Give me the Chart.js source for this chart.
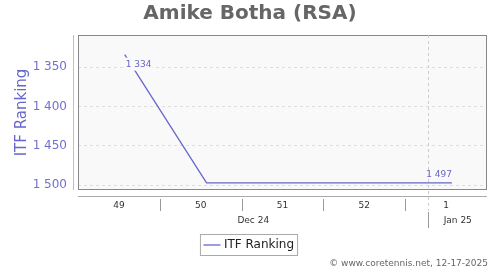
<!DOCTYPE html>
<html>
<head>
<meta charset="utf-8">
<script src="https://cdn.jsdelivr.net/npm/chart.js@4.4.1/dist/chart.umd.min.js"></script>
<style>
  html, body { margin: 0; padding: 0; background: #fff; }
  #wrap { width: 500px; height: 270px; }
</style>
</head>
<body>
<div id="wrap"><canvas id="js--chart"></canvas></div>
<script>
// data
const dates = ["2024-12-06", "2024-12-13", "2024-12-20", "2024-12-27", "2025-01-03"];
const ranking = [1334, 1497, 1497, 1497, 1497];
const weekLabels = ["49", "50", "51", "52", "1"];
const monthLabels = ["Dec 24", "Jan 25"];
const yTicks = [1350, 1400, 1450, 1500];

const startDay = Date.UTC(2024, 11, 2);
const dayMs = 86400000;
function dayOf(s) {
    const p = s.split("-");
    return (Date.UTC(+p[0], +p[1] - 1, +p[2]) - startDay) / dayMs;
}
const points = dates.map(function(d, i){
    return { x: dayOf(d), y: ranking[i] };
});

const purple = "rgb(102,102,204)";
const tickPurple = "rgb(112,112,208)";
const fontFam = "'DejaVu Sans', sans-serif";

function fmt(n) {
    return String(n).replace(/\B(?=(\d{3})+(?!\d))/g, " ");
}

const framePlugin = {
    id: "frame",
    beforeDraw(chart) {
        const a = chart.chartArea;
        const c = chart.ctx;
        c.save();
        c.fillStyle = "#f9f9f9";
        c.fillRect(a.left, a.top, a.width, a.height);
        c.restore();
    },
    afterDraw(chart) {
        const a = chart.chartArea;
        const c = chart.ctx;
        const xs = chart.scales.x;
        c.save();
        // frame
        c.strokeStyle = "#888";
        c.lineWidth = 1;
        c.strokeRect(a.left + 0.5, a.top + 0.5, a.width - 1, a.height - 1);
        // y axis line
        c.strokeStyle = "#bbbbdd";
        c.beginPath();
        c.moveTo(a.left - 4.5, a.top);
        c.lineTo(a.left - 4.5, a.bottom);
        c.stroke();
        // x axis line
        c.strokeStyle = "#aaa";
        c.beginPath();
        c.moveTo(a.left, a.bottom + 6.5);
        c.lineTo(a.right, a.bottom + 6.5);
        c.stroke();
        // week separators
        c.strokeStyle = "#999";
        for (let d = 7; d < 35; d += 7) {
            const x = Math.round(xs.getPixelForValue(d)) + 0.5;
            c.beginPath();
            c.moveTo(x, a.bottom + 9);
            c.lineTo(x, a.bottom + 21);
            c.stroke();
        }
        // month boundary
        const jx = Math.round(xs.getPixelForValue(dayOf("2025-01-01"))) - 0.5;
        c.strokeStyle = "#ccc";
        c.setLineDash([3, 3]);
        c.beginPath();
        c.moveTo(jx, a.top);
        c.lineTo(jx, a.bottom + 21);
        c.stroke();
        c.setLineDash([]);
        c.strokeStyle = "#999";
        c.beginPath();
        c.moveTo(jx, a.bottom + 22);
        c.lineTo(jx, a.bottom + 38);
        c.stroke();
        // month labels
        c.fillStyle = "#333";
        c.font = "9px " + fontFam;
        c.textAlign = "center";
        c.textBaseline = "middle";
        c.fillText(monthLabels[0], (a.left + jx) / 2, a.bottom + 31);
        c.fillText(monthLabels[1], (jx + a.right) / 2, a.bottom + 31);
        // legend border
        const lg = chart.legend;
        if (lg && lg.legendHitBoxes.length) {
            const hb = lg.legendHitBoxes[0];
            c.strokeStyle = "#aaa";
            c.strokeRect(hb.left - 5.5, hb.top - 4.5, hb.width + 9, hb.height + 9);
        }
        // credit
        c.fillStyle = "#666";
        c.font = "9px " + fontFam;
        c.textAlign = "right";
        c.fillText("\u00a9 www.coretennis.net, 12-17-2025", 488, 264);
        c.restore();
    },
    afterDatasetsDraw(chart) {
        const meta = chart.getDatasetMeta(0);
        const c = chart.ctx;
        c.save();
        c.font = "9px " + fontFam;
        c.textBaseline = "middle";
        const first = meta.data[0];
        const last = meta.data[meta.data.length - 1];
        let t = fmt(ranking[0]);
        let w = c.measureText(t).width;
        c.fillStyle = "#f9f9f9";
        c.fillRect(first.x, first.y + 3, w + 2, 13);
        c.fillStyle = purple;
        c.textAlign = "left";
        c.fillText(t, first.x + 1, first.y + 10);
        t = fmt(ranking[ranking.length - 1]);
        c.textAlign = "right";
        c.fillText(t, last.x, last.y - 8);
        c.restore();
    }
};

new Chart(document.getElementById("js--chart"), {
    type: "line",
    data: {
        datasets: [{
            label: "ITF Ranking",
            data: points,
            borderColor: purple,
            backgroundColor: purple,
            borderWidth: 1.3,
            pointRadius: 0,
            tension: 0
        }]
    },
    options: {
        responsive: true,
        maintainAspectRatio: false,
        animation: false,
        layout: { padding: { left: 13, right: 13, top: 0, bottom: 9 } },
        plugins: {
            title: {
                display: true,
                text: "Amike Botha (RSA)",
                color: "#666",
                font: { family: fontFam, size: 20, weight: "bold" },
                padding: { top: 2, bottom: 9 }
            },
            legend: {
                position: "bottom",
                labels: {
                    color: "#222",
                    font: { family: fontFam, size: 12 },
                    usePointStyle: true,
                    pointStyle: "line",
                    boxWidth: 18,
                    padding: 8
                }
            },
            tooltip: { enabled: false }
        },
        scales: {
            x: {
                type: "linear",
                min: 0,
                max: 35,
                afterBuildTicks(scale) {
                    scale.ticks = weekLabels.map(function(l, i){ return { value: 3.5 + 7 * i }; });
                },
                afterFit(scale) { scale.height = 41; },
                ticks: {
                    color: "#333",
                    font: { family: fontFam, size: 9 },
                    padding: 2,
                    maxRotation: 0,
                    callback: function(v, i){ return weekLabels[i]; }
                },
                grid: { display: false },
                border: { display: false }
            },
            y: {
                reverse: true,
                min: 1309,
                max: 1506,
                afterBuildTicks(scale) {
                    scale.ticks = yTicks.map(function(v){ return { value: v }; });
                },
                afterFit(scale) { scale.width = 65; },
                ticks: {
                    color: tickPurple,
                    font: { family: fontFam, size: 12 },
                    padding: 11,
                    callback: function(v){ return fmt(v); }
                },
                title: {
                    display: true,
                    text: "ITF Ranking",
                    color: purple,
                    font: { family: fontFam, size: 15 },
                    padding: { top: 0, bottom: 0 }
                },
                grid: {
                    color: "#ddd",
                    drawTicks: false,
                    tickBorderDash: [3, 3]
                },
                border: { display: false, dash: [3, 3] }
            }
        }
    },
    plugins: [framePlugin]
});
</script>
</body>
</html>
